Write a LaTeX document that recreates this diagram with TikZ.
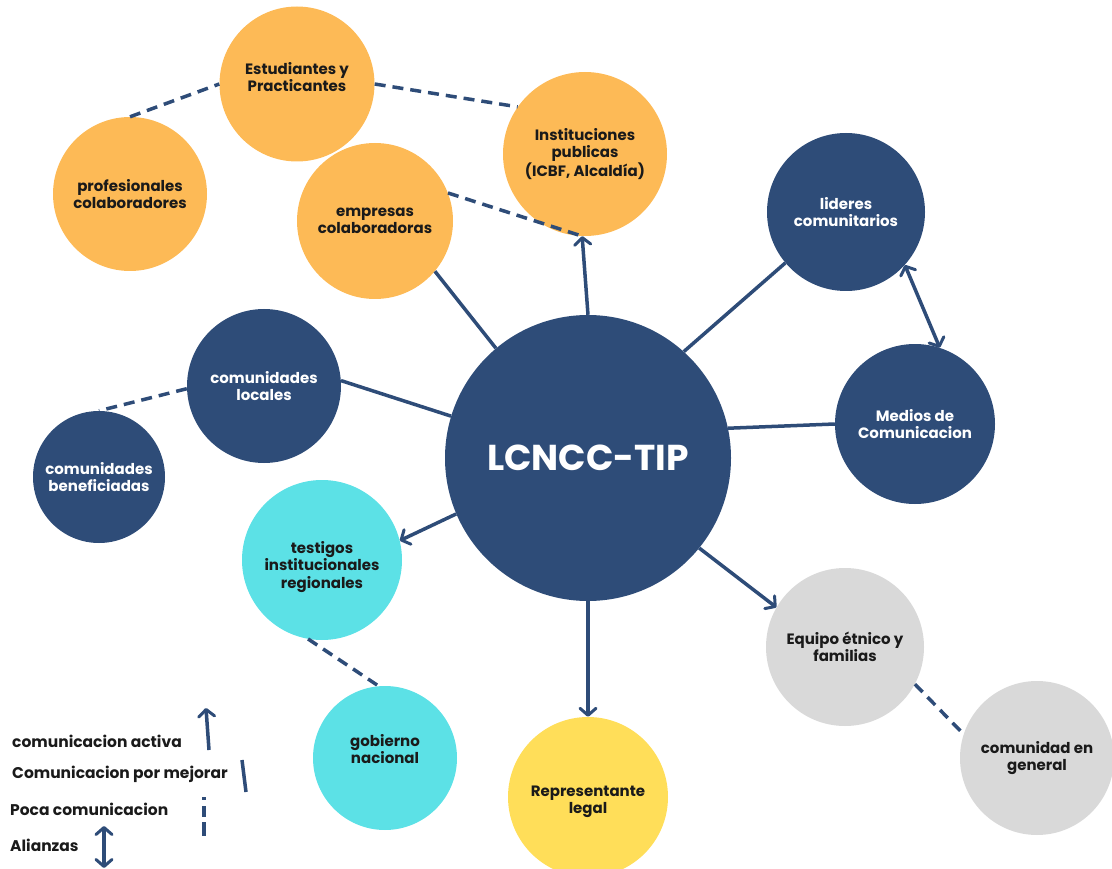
\documentclass[tikz,border=0pt]{standalone}
\usepackage{fontspec}
\setmainfont{Poppins}
\usetikzlibrary{arrows.meta}
\definecolor{navy}{HTML}{2E4C78}
\definecolor{orng}{HTML}{FDBA56}
\definecolor{cyan2}{HTML}{5CE1E6}
\definecolor{lgray}{HTML}{D9D9D9}
\definecolor{yell}{HTML}{FFDE59}
\definecolor{txt}{HTML}{1A1A1A}
\tikzset{
  bub/.style={circle,inner sep=0pt,align=center,font=\fontsize{15}{17.5}\selectfont\bfseries,text=txt},
  orb/.style={bub,fill=orng},
  nvb/.style={bub,fill=navy,text=white},
  cyb/.style={bub,fill=cyan2},
  grb/.style={bub,fill=lgray},
  ylb/.style={bub,fill=yell},
  inner/.style={align=center,inner sep=0pt,font=\fontsize{15}{17.5}\selectfont\bfseries,text=txt},
  link/.style={draw=navy,line width=3.5pt},
  weak/.style={link,dash pattern=on 11pt off 7pt},
  arr/.style={link,-{Straight Barb[length=7pt,width=16pt,line width=3pt,round]}},
  darr/.style={link,{Straight Barb[length=7pt,width=16pt,line width=3pt,round]}-{Straight Barb[length=7pt,width=16pt,line width=3pt,round]}},
  leg/.style={anchor=west,font=\fontsize{15.5}{18}\selectfont\bfseries,text=txt,inner sep=0pt}
}
\begin{document}
\begin{tikzpicture}[x=1pt,y=-1pt]
\useasboundingbox (0,0) rectangle (1112,869);
% nodes
\node[orb,minimum size=155pt,label={[inner,yshift=7pt]center:{Estudiantes y\\Practicantes}}] (est) at (297,84) {};
\node[orb,minimum size=154pt] (prof) at (130,194) {profesionales\\colaboradores};
\node[orb,minimum size=164pt] (inst) at (585,154) {Instituciones\\publicas\\(ICBF, Alcaldía)};
\node[orb,minimum size=156pt] (emp) at (375,221) {empresas\\colaboradoras};
\node[nvb,minimum size=158pt] (lid) at (846,212) {lideres\\comunitarios};
\node[nvb,minimum size=154pt] (cloc) at (264,386) {comunidades\\locales};
\node[nvb,minimum size=160pt] (med) at (915,424) {Medios de\\Comunicacion};
\node[nvb,minimum size=286pt,font=\fontsize{36}{40}\selectfont\bfseries] (main) at (588,458) {LCNCC-TIP};
\node[nvb,minimum size=132pt] (cben) at (99,477) {comunidades\\beneficiadas};
\node[cyb,minimum size=160pt,label={[inner,yshift=-7pt]center:{testigos\\institucionales\\regionales}}] (test) at (322,560) {};
\node[grb,minimum size=158pt] (equ) at (845,647) {Equipo étnico y\\familias};
\node[cyb,minimum size=144pt,label={[inner,yshift=9pt]center:{gobierno\\nacional}}] (gob) at (385,758) {};
\node[grb,minimum size=154pt] (cgen) at (1037,758) {comunidad en\\general};
\node[ylb,minimum size=160pt,label={[inner,yshift=-5pt]center:{Representante\\legal}}] (rep) at (588,797) {};
% connectors
\draw[weak] (prof.90) -- (est.180);
\draw[weak] (est.0) -- (inst.145);
\draw[weak] (emp.21) -- (inst.268);
\draw[arr] (main.90) -- (inst.268);
\draw[link] (main.130) -- (emp.-40);
\draw[link] (main.48) -- (lid.220);
\draw[darr] (lid.-42) -- (med.72);
\draw[link] (main.12) -- (med.180);
\draw[link] (main.163) -- (cloc.4);
\draw[weak] (cloc.182) -- (cben.90);
\draw[arr] (main.203) -- (test.14);
\draw[weak] (test.-100) -- (gob.95);
\draw[arr] (main.270) -- (rep.90);
\draw[arr] (main.-39) -- (equ.150);
\draw[weak] (equ.-28) -- (cgen.162);
% legend
\node[leg] (l1) at (12,741) {comunicacion activa};
\node[leg] (l2) at (12,774) {Comunicacion por mejorar};
\node[leg] (l3) at (10,809) {Poca comunicacion};
\node[leg] (l4) at (10,845) {Alianzas};
\coordinate (a1s) at (209,750); \coordinate (a1e) at (206,708);
\draw[arr] (a1s) -- (a1e);
\coordinate (a2s) at (242,760); \coordinate (a2e) at (246,792);
\draw[link] (a2s) -- (a2e);
\coordinate (a3s) at (204,797); \coordinate (a3e) at (204,836);
\draw[link,dash pattern=on 3pt off 6pt on 11pt off 5pt on 14pt] (a3s) -- (a3e);
\coordinate (a4s) at (104,826); \coordinate (a4e) at (104,868);
\draw[darr] (a4s) -- (a4e);
\end{tikzpicture}
\end{document}
